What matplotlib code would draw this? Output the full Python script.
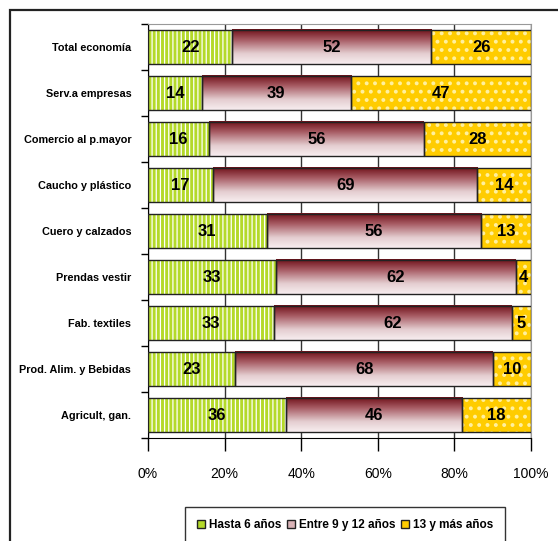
import numpy as np
import matplotlib.pyplot as plt
from matplotlib.colors import LinearSegmentedColormap
from matplotlib.patches import Rectangle

# data (top to bottom as in the chart)
categories = ['Total economía', 'Serv.a empresas', 'Comercio al p.mayor',
              'Caucho y plástico', 'Cuero y calzados', 'Prendas vestir',
              'Fab. textiles', 'Prod. Alim. y Bebidas', 'Agricult, gan.']
hasta6 = [22, 14, 16, 17, 31, 33, 33, 23, 36]
entre9_12 = [52, 39, 56, 69, 56, 62, 62, 68, 46]
trece_mas = [26, 47, 28, 14, 13, 4, 5, 10, 18]
series_names = ['Hasta 6 años', 'Entre 9 y 12 años', '13 y más años']
xticks = [0, 20, 40, 60, 80, 100]

fam = ['Liberation Sans', 'DejaVu Sans']

fig = plt.figure(figsize=(5.58, 5.41), dpi=100)
ax = fig.add_axes([148/558, 1-438/541, 383/558, 414/541])

green = '#b4d92a'
yellow = '#ffcc00'
cmap = LinearSegmentedColormap.from_list(
    'maroon', [(0, '#6e1019'), (0.3, '#a65a62'), (0.7, '#e4cdd0'), (1, '#f8eef0')])
grad = np.linspace(0, 1, 100).reshape(-1, 1)

n = len(categories)
ypos = np.arange(n)[::-1]
h = 0.74
lab_font = dict(fontsize=12, fontweight='bold', family=fam)

for i in range(n):
    vals = np.array([hasta6[i], entre9_12[i], trece_mas[i]], dtype=float)
    w = vals / vals.sum() * 100
    y = ypos[i]
    # green with white vertical stripes
    with plt.rc_context({'hatch.linewidth': 0.9}):
        ax.barh(y, w[0], left=0, height=h, color=green, edgecolor='white', hatch='||||', lw=0, zorder=3)
    ax.barh(y, w[0], left=0, height=h, fill=False, edgecolor='#222222', lw=1, zorder=4)
    # maroon gradient
    ax.imshow(grad, extent=[w[0], w[0]+w[1], y-h/2, y+h/2], origin='upper',
              aspect='auto', cmap=cmap, zorder=3, interpolation='bilinear')
    ax.barh(y, w[1], left=w[0], height=h, fill=False, edgecolor='#222222', lw=1, zorder=4)
    # yellow with white dots
    with plt.rc_context({'hatch.linewidth': 1.6}):
        ax.barh(y, w[2], left=w[0]+w[1], height=h, color=yellow, edgecolor='#fff0a0', hatch='..', lw=0, zorder=3)
    ax.barh(y, w[2], left=w[0]+w[1], height=h, fill=False, edgecolor='#222222', lw=1, zorder=4)
    lefts = [0, w[0], w[0]+w[1]]
    for j in range(3):
        ax.text(lefts[j] + w[j]/2, y, str(int(vals[j])), ha='center', va='center', zorder=5, **lab_font)

ax.set_xlim(0, 100)
ax.set_ylim(-0.5, n-0.5)
ax.set_xticks(xticks)
ax.set_xticklabels([f'{t}%' for t in xticks], fontsize=10, family=fam)
ax.set_yticks(ypos)
ax.set_yticklabels(categories, fontsize=7.8, fontweight='bold', family=fam)
ax.set_yticks(np.arange(n+1) - 0.5, minor=True)
ax.tick_params(axis='y', which='major', length=0, pad=12)
ax.tick_params(axis='y', which='minor', length=5, width=1)
ax.tick_params(axis='x', length=9, width=1, pad=12)
ax.xaxis.grid(True, color='#333333', lw=1)
ax.set_axisbelow(True)
for s in ['top', 'right']:
    ax.spines[s].set_color('#999999')
for s in ['left', 'bottom']:
    ax.spines[s].set_color('black')

# legend (box runs off the bottom edge like the original)
handles = [Rectangle((0, 0), 1, 1, facecolor=green, edgecolor='#222222', hatch='|', lw=1),
           Rectangle((0, 0), 1, 1, facecolor='#d9b3b7', edgecolor='#222222', lw=1),
           Rectangle((0, 0), 1, 1, facecolor=yellow, edgecolor='#222222', lw=1)]
leg = fig.legend(handles, series_names, loc='upper left', bbox_to_anchor=(185/558, 1-507/541),
                 ncol=3, frameon=True, fancybox=False, edgecolor='black', borderaxespad=0,
                 handlelength=0.7, handleheight=0.7, handletextpad=0.3, columnspacing=0.5,
                 borderpad=1.0, prop=dict(size=8.5, weight='bold', family=fam))
leg.get_frame().set_linewidth(1)

# outer frame
fig.patches.append(Rectangle((10/558, -0.1), 1.0, 1.1 - 10/541, transform=fig.transFigure,
                             fill=False, edgecolor='#222222', lw=1.6))

fig.savefig('out.png', dpi=100)
